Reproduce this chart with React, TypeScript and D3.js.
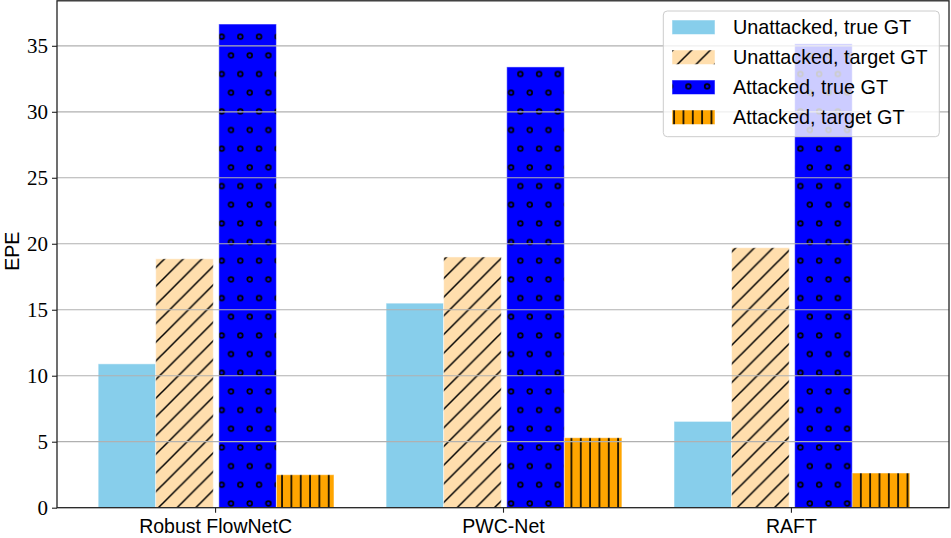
import React, { useEffect, useRef } from "react";
import * as d3 from "d3";

const categories = ["Robust FlowNetC", "PWC-Net", "RAFT"];
const seriesNames = [
  "Unattacked, true GT",
  "Unattacked, target GT",
  "Attacked, true GT",
  "Attacked, target GT",
];
const unattackedTrue = [10.9, 15.5, 6.54];
const unattackedTarget = [18.86, 19.0, 19.7];
const attackedTrue = [36.65, 33.4, 35.15];
const attackedTarget = [2.5, 5.3, 2.63];
const yTicks = [0, 5, 10, 15, 20, 25, 30, 35];

const seriesValues = [unattackedTrue, unattackedTarget, attackedTrue, attackedTarget];
const fills = ["url(#solid-sky)", "url(#hatch-slash)", "url(#hatch-dots)", "url(#hatch-vert)"];

const App: React.FC = () => {
  const width = 951;
  const height = 538;
  const svgRef = useRef<SVGSVGElement>(null);

  useEffect(() => {
    const svg = d3.select(svgRef.current);
    if (svg.empty()) return;
    svg.selectAll("*").remove();

    const left = 57;
    const right = 949;
    const top = 0.8;
    const bottom = 507.7;

    const x = d3.scalePoint<string>().domain(categories).range([left, right]).padding(0.549);
    const y = d3.scaleLinear().domain([0, 38.41]).range([bottom, top]);

    const barW = x.step() * 0.2;
    const gap = 5.5;
    const inner = d3
      .scaleBand<string>()
      .domain(seriesNames)
      .range([0, barW * 4])
      .paddingInner(0);
    const groupStart = -(barW * 4 + gap) / 2 + 1;

    // hatch patterns, anchored to page space like matplotlib does
    const defs = svg.append("defs");
    const u = 18.67;

    const sky = defs
      .append("pattern")
      .attr("id", "solid-sky")
      .attr("patternUnits", "userSpaceOnUse")
      .attr("width", 10)
      .attr("height", 10);
    sky.append("rect").attr("width", 10).attr("height", 10).attr("fill", "#87ceeb");

    const slash = defs
      .append("pattern")
      .attr("id", "hatch-slash")
      .attr("patternUnits", "userSpaceOnUse")
      .attr("x", 12.67)
      .attr("y", 0)
      .attr("width", u)
      .attr("height", u);
    slash.append("rect").attr("width", u).attr("height", u).attr("fill", "#ffdead");
    slash
      .append("path")
      .attr("d", `M0,${u} L${u},0 M${-u / 2},${u / 2} L${u / 2},${-u / 2} M${u / 2},${u * 1.5} L${u * 1.5},${u / 2}`)
      .attr("stroke", "black")
      .attr("stroke-width", 1.5);

    const dots = defs
      .append("pattern")
      .attr("id", "hatch-dots")
      .attr("patternUnits", "userSpaceOnUse")
      .attr("x", 2.33)
      .attr("y", 8.67)
      .attr("width", u)
      .attr("height", u * 2);
    dots.append("rect").attr("width", u).attr("height", u * 2).attr("fill", "#0000ff");
    [
      [u / 4, u / 2],
      [(u * 3) / 4, u * 1.5],
    ].forEach(([cx, cy]) => {
      dots
        .append("circle")
        .attr("cx", cx)
        .attr("cy", cy)
        .attr("r", 2.4)
        .attr("fill", "none")
        .attr("stroke", "black")
        .attr("stroke-width", 1.7);
    });

    const vu = u / 2;
    const vert = defs
      .append("pattern")
      .attr("id", "hatch-vert")
      .attr("patternUnits", "userSpaceOnUse")
      .attr("x", 2 - vu / 2)
      .attr("y", 0)
      .attr("width", vu)
      .attr("height", vu);
    vert.append("rect").attr("width", vu).attr("height", vu).attr("fill", "#ffa500");
    vert
      .append("line")
      .attr("x1", vu / 2)
      .attr("x2", vu / 2)
      .attr("y1", -1)
      .attr("y2", vu + 1)
      .attr("stroke", "black")
      .attr("stroke-width", 1.6);

    // bars
    const bars = svg.append("g");
    seriesNames.forEach((name, si) => {
      bars
        .selectAll(`.bar-${si}`)
        .data(categories)
        .enter()
        .append("rect")
        .attr("x", (c) => (x(c) ?? 0) + groupStart + (inner(name) ?? 0) + (si >= 2 ? gap : 0))
        .attr("y", (_, i) => y(seriesValues[si][i]))
        .attr("width", barW)
        .attr("height", (_, i) => y(0) - y(seriesValues[si][i]))
        .attr("fill", fills[si])
        .attr("stroke", "white")
        .attr("stroke-opacity", 0.5)
        .attr("stroke-width", 1);
    });

    // grid on top of bars
    svg
      .append("g")
      .selectAll("line")
      .data(yTicks.filter((t) => t > 0))
      .enter()
      .append("line")
      .attr("x1", left)
      .attr("x2", right)
      .attr("y1", (d) => y(d))
      .attr("y2", (d) => y(d))
      .attr("stroke", "#b0b0b0")
      .attr("stroke-width", 1.2);

    // y axis
    const yAxis = svg
      .append("g")
      .attr("transform", `translate(${left},0)`)
      .call(d3.axisLeft(y).tickValues(yTicks).tickSize(5).tickPadding(4).tickFormat(d3.format("d")));
    yAxis.select(".domain").remove();
    yAxis.selectAll("line").attr("stroke", "#222").attr("stroke-width", 1.1);
    yAxis
      .selectAll("text")
      .attr("fill", "black")
      .style("font-family", "'Liberation Serif', serif")
      .style("font-size", "21px");

    // x axis
    const xAxis = svg
      .append("g")
      .attr("transform", `translate(0,${bottom})`)
      .call(d3.axisBottom(x).tickSize(5).tickPadding(6));
    xAxis.select(".domain").remove();
    xAxis.selectAll("line").attr("stroke", "#222").attr("stroke-width", 1.1);
    xAxis
      .selectAll("text")
      .attr("fill", "black")
      .style("font-family", "'Liberation Sans', sans-serif")
      .style("font-size", "19.5px");

    // frame
    svg
      .append("rect")
      .attr("x", left)
      .attr("y", top)
      .attr("width", right - left)
      .attr("height", bottom - top)
      .attr("fill", "none")
      .attr("stroke", "#222")
      .attr("stroke-width", 1.3);

    svg
      .append("text")
      .attr("transform", `translate(12,${(top + bottom) / 2 - 3}) rotate(-90)`)
      .attr("text-anchor", "middle")
      .attr("dy", "0.35em")
      .style("font-family", "'Liberation Sans', sans-serif")
      .style("font-size", "19.5px")
      .text("EPE");

    // legend
    const legend = svg.append("g");
    legend
      .append("rect")
      .attr("x", 663.3)
      .attr("y", 11)
      .attr("width", 276)
      .attr("height", 125.7)
      .attr("rx", 4)
      .attr("fill", "white")
      .attr("fill-opacity", 0.8)
      .attr("stroke", "#cccccc")
      .attr("stroke-width", 1);

    const rows = legend
      .selectAll(".row")
      .data(seriesNames)
      .enter()
      .append("g")
      .attr("transform", (_, i) => `translate(0,${27 + i * 30})`);
    rows
      .append("rect")
      .attr("x", 672)
      .attr("y", -7)
      .attr("width", 43)
      .attr("height", 14.5)
      .attr("fill", (_, i) => fills[i])
      .attr("stroke", "white")
      .attr("stroke-opacity", 0.5)
      .attr("stroke-width", 1);
    rows
      .append("text")
      .attr("x", 733)
      .attr("dy", "0.35em")
      .style("font-family", "'Liberation Sans', sans-serif")
      .style("font-size", "19.8px")
      .text((d) => d);
  }, []);

  return (
    <svg
      ref={svgRef}
      width={width}
      height={height}
      style={{ position: "absolute", left: 0, top: 0, background: "white" }}
    ></svg>
  );
};

export default App;
